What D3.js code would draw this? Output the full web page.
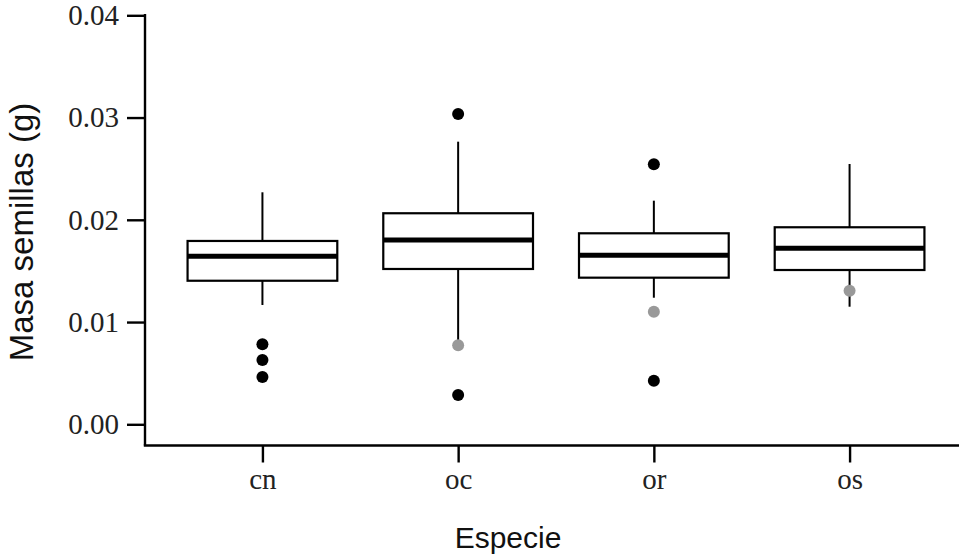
<!DOCTYPE html>
<html>
<head>
<meta charset="utf-8">
<script src="https://cdn.jsdelivr.net/npm/d3@7"></script>
<style>
  html, body { margin: 0; padding: 0; background: #fff; }
  svg { display: block; }
</style>
</head>
<body>
<svg id="chart" width="959" height="558"></svg>
<script>
// ---- Data ----
const categories = ["cn", "oc", "or", "os"];
const whiskerLow  = [0.01167, 0.00775, 0.01238, 0.01150];
const q1          = [0.01404, 0.01519, 0.01434, 0.01509];
const median      = [0.01643, 0.01802, 0.01653, 0.01721];
const q3          = [0.01793, 0.02064, 0.01868, 0.01927];
const whiskerHigh = [0.02269, 0.02764, 0.02187, 0.02546];
// outliers (black) per category
const outliers = [
  [0.00782, 0.00629, 0.00463],
  [0.03035, 0.00287],
  [0.02543, 0.00426],
  []
];
// grey points per category
const greyPoints = [null, 0.00773, 0.01101, 0.01307];
const yTicks = [0.00, 0.01, 0.02, 0.03, 0.04];
const xTitle = "Especie";
const yTitle = "Masa semillas (g)";

// ---- Layout ----
const svg = d3.select("#chart");
const panelLeft = 145, panelRight = 967;
const yTop = 15.3, yZero = 424.3, panelBottom = 445.5;

const x = d3.scalePoint().domain(categories).range([panelLeft, panelRight]).padding(0.6);
const y = d3.scaleLinear().domain([0, 0.04]).range([yZero, yTop]);
const boxW = x.step() * 0.765;

const serif = "'Liberation Serif', 'Times New Roman', serif";
const sans = "'Liberation Sans', Arial, Helvetica, sans-serif";

// ---- Axes ----
const yAxis = d3.axisLeft(y).tickValues(yTicks).tickFormat(d3.format(".2f")).tickSize(18).tickPadding(8);
const gy = svg.append("g").attr("transform", `translate(${panelLeft},0)`).call(yAxis);
gy.select(".domain").remove();
gy.selectAll(".tick line").attr("stroke", "#000").attr("stroke-width", 2.4);
gy.selectAll(".tick text").attr("font-family", serif).attr("font-size", 29).attr("fill", "#222");
svg.append("line")
  .attr("x1", panelLeft).attr("x2", panelLeft)
  .attr("y1", y(0.04) - 1.2).attr("y2", panelBottom)
  .attr("stroke", "#000").attr("stroke-width", 2.4);

const xAxis = d3.axisBottom(x).tickSize(17).tickPadding(6);
const gx = svg.append("g").attr("transform", `translate(0,${panelBottom})`).call(xAxis);
gx.select(".domain").remove();
gx.selectAll(".tick line").attr("stroke", "#000").attr("stroke-width", 2.4);
gx.selectAll(".tick text").attr("font-family", serif).attr("font-size", 29).attr("fill", "#222");
svg.append("line")
  .attr("x1", panelLeft - 1.2).attr("x2", 959)
  .attr("y1", panelBottom).attr("y2", panelBottom)
  .attr("stroke", "#000").attr("stroke-width", 2.4);

// ---- Titles ----
svg.append("text")
  .attr("x", 508)
  .attr("y", 548)
  .attr("text-anchor", "middle")
  .attr("font-family", sans).attr("font-size", 30).attr("fill", "#111")
  .text(xTitle);
svg.append("text")
  .attr("transform", `translate(33,232) rotate(-90)`)
  .attr("text-anchor", "middle")
  .attr("font-family", sans).attr("font-size", 33).attr("fill", "#111")
  .text(yTitle);

// ---- Boxes ----
const g = svg.append("g");
categories.forEach((c, i) => {
  const cx = x(c);
  // whiskers
  g.append("line").attr("x1", cx).attr("x2", cx)
    .attr("y1", y(whiskerHigh[i])).attr("y2", y(q3[i]))
    .attr("stroke", "#000").attr("stroke-width", 2);
  g.append("line").attr("x1", cx).attr("x2", cx)
    .attr("y1", y(q1[i])).attr("y2", y(whiskerLow[i]))
    .attr("stroke", "#000").attr("stroke-width", 2);
  // box
  g.append("rect")
    .attr("x", cx - boxW / 2).attr("width", boxW)
    .attr("y", y(q3[i])).attr("height", y(q1[i]) - y(q3[i]))
    .attr("fill", "#fff").attr("stroke", "#000").attr("stroke-width", 2.2);
  // median
  g.append("line")
    .attr("x1", cx - boxW / 2).attr("x2", cx + boxW / 2)
    .attr("y1", y(median[i])).attr("y2", y(median[i]))
    .attr("stroke", "#000").attr("stroke-width", 5);
  // outliers
  outliers[i].forEach(v => {
    g.append("circle").attr("cx", cx).attr("cy", y(v)).attr("r", 6).attr("fill", "#000");
  });
  // grey points
  if (greyPoints[i] !== null) {
    g.append("circle").attr("cx", cx).attr("cy", y(greyPoints[i])).attr("r", 6).attr("fill", "#999");
  }
});
</script>
</body>
</html>
